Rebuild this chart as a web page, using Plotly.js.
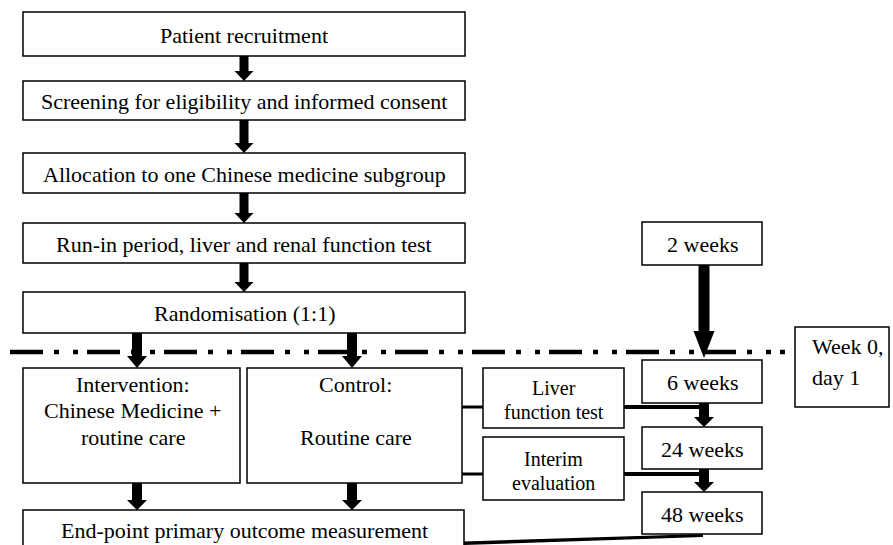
<!DOCTYPE html>
<html>
<head>
<meta charset="utf-8">
<script src="https://cdn.plot.ly/plotly-3.0.1.min.js"></script>
<style>
html,body{margin:0;padding:0;background:#fff;}
#chart{width:893px;height:545px;position:relative;z-index:1;}
#prime{position:absolute;left:30px;top:20px;font-family:'Liberation Serif';font-size:22px;color:#fff;z-index:0;}
</style>
</head>
<body>
<div id="prime">Patient recruitment 0123456789</div>
<div id="chart"></div>
<script>
// ---- content ----
const mainSteps = [
  "Patient recruitment",
  "Screening for eligibility and informed consent",
  "Allocation to one Chinese medicine subgroup",
  "Run-in period, liver and renal function test",
  "Randomisation (1:1)"
];
const armLabels = [
  ["Intervention:", "Chinese Medicine +", "routine care"],
  ["Control:", "", "Routine care"]
];
const checkLabels = [
  ["Liver", "function test"],
  ["Interim", "evaluation"]
];
const timeLabels = ["2 weeks", "6 weeks", "24 weeks", "48 weeks"];
const baselineLabel = ["Week 0,", "day 1"];
const outcomeLabel = "End-point primary outcome measurement";

// ---- geometry (pixel-like coordinate system, y down) ----
const mainBoxes = [[23, 12, 465, 56], [23, 81, 465, 120], [23, 153, 465, 193], [23, 223, 465, 263], [23, 292, 465, 333]];
const armBoxes = [[23, 368, 240, 483], [247, 368, 462, 483]];
const checkBoxes = [[483, 368, 624, 428], [483, 437, 624, 500]];
const timeBoxes = [[642, 222, 762, 265], [642, 360, 762, 403], [642, 427, 762, 469], [642, 492, 762, 534]];
const baselineBox = [795, 327, 889, 407];
const outcomeBox = [23, 510, 464, 600];

const FONT = "Liberation Serif";
const shapes = [];
const annotations = [];

function rect(b, w) {
  shapes.push({type: "rect", xref: "x", yref: "y", x0: b[0], y0: b[1], x1: b[2], y1: b[3],
    line: {color: "#000", width: w || 1.5}, fillcolor: "rgba(0,0,0,0)", layer: "above"});
}
function line(x0, y0, x1, y1, w) {
  shapes.push({type: "line", xref: "x", yref: "y", x0: x0, y0: y0, x1: x1, y1: y1,
    line: {color: "#000", width: w}});
}
function arrow(x, y0, y1, sw, hw, hh) {
  const s = sw / 2, h = hw / 2, yb = y1 - hh;
  const p = `M ${x - s},${y0} L ${x + s},${y0} L ${x + s},${yb} L ${x + h},${yb} L ${x},${y1} L ${x - h},${yb} L ${x - s},${yb} Z`;
  shapes.push({type: "path", xref: "x", yref: "y", path: p, fillcolor: "#000", line: {color: "#000", width: 0}, layer: "above"});
}
function text(t, x, y, size, anchor) {
  annotations.push({text: t, x: x, y: y, xref: "x", yref: "y", showarrow: false,
    xanchor: anchor || "center", yanchor: "middle", font: {family: FONT, size: size, color: "#000000"}});
}

// dashed timeline (drawn first, under arrows)
shapes.push({type: "line", xref: "x", yref: "y", x0: 10, y0: 352, x1: 785, y1: 352,
  line: {color: "#000", width: 4.5, dash: "33px,11px,5px,14px,5px,9px"}});

// main column
mainBoxes.forEach((b, i) => {
  rect(b);
  text(mainSteps[i], (b[0] + b[2]) / 2, (b[1] + b[3]) / 2 + 1, 22);
  if (i < mainBoxes.length - 1) arrow(244, b[3], mainBoxes[i + 1][1], 9, 19, 10);
});
// randomisation to arms
arrow(137, 333, 368, 10, 20, 12);
arrow(352, 333, 368, 10, 20, 12);

// arms
armBoxes.forEach((b, i) => {
  rect(b);
  const cx = (b[0] + b[2]) / 2 + 1;
  armLabels[i].forEach((t, j) => { if (t) text(t, cx, 384 + j * 26.5, 22); });
  arrow(i === 0 ? 137 : 352, b[3], outcomeBox[1], 10, 20, 10);
});

// checks
checkBoxes.forEach((b, i) => {
  rect(b);
  const cx = (b[0] + b[2]) / 2;
  const yc = (b[1] + b[3]) / 2;
  checkLabels[i].forEach((t, j) => text(t, cx, yc - 10 + j * 24, 20));
});
// connectors
[407, 474].forEach(y => {
  line(462, y, 483, y, 3);
  line(624, y, 706, y, 4);
});

// time boxes
timeBoxes.forEach((b, i) => {
  rect(b);
  text(timeLabels[i], (b[0] + b[2]) / 2, (b[1] + b[3]) / 2 + 1, 22);
});
arrow(704, 265, 358, 11, 21, 27);
arrow(704, 403, 427, 10, 20, 10);
arrow(704, 469, 492, 10, 20, 10);

// baseline box
rect(baselineBox);
text(baselineLabel[0], 810, 346, 22, "left");
text(baselineLabel[1], 810, 377, 22, "left");

// outcome box
rect(outcomeBox);
text(outcomeLabel, 244, 530, 22);
shapes.push({type: "path", xref: "x", yref: "y",
  path: "M 464,541.5 L 703,534 L 703,537 L 464,545 Z", fillcolor: "#000", line: {color: "#000", width: 0}});

const layout = {
  width: 893, height: 545,
  margin: {l: 0, r: 0, t: 0, b: 0},
  paper_bgcolor: "#fff", plot_bgcolor: "#fff",
  font: {family: FONT, color: "#000"},
  xaxis: {range: [0, 893], visible: false, fixedrange: true},
  yaxis: {range: [545, 0], visible: false, fixedrange: true},
  showlegend: false,
  shapes: shapes,
  annotations: annotations
};
// force layout of the priming text so the serif face is resolved before plotting
document.getElementById("prime").getBoundingClientRect();
Plotly.newPlot("chart", [], layout, {displayModeBar: false});
</script>
</body>
</html>
